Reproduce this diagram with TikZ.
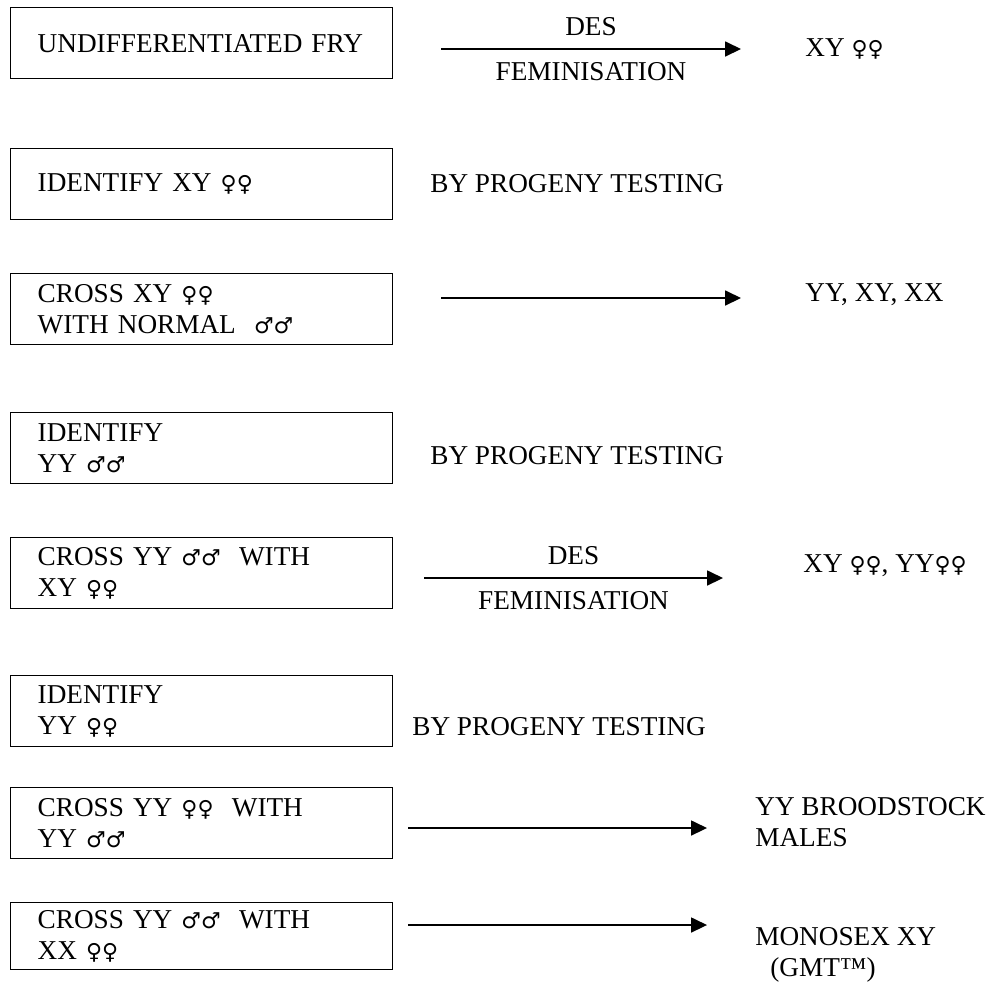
\documentclass[tikz,border=0pt]{standalone}
\usepackage{fontspec}
\setmainfont{Liberation Serif}
\newfontfamily\symfont{DejaVu Sans}
\newcommand{\ff}{{\symfont\fontsize{12.5}{15}\selectfont ♀♀}}
\newcommand{\mm}{{\symfont\fontsize{12.5}{15}\selectfont ♂♂}}
\usepackage{tikz}
\usetikzlibrary{arrows.meta}

\begin{document}
\begin{tikzpicture}[x=0.02cm, y=-0.02cm,
	every node/.style={font=\fontsize{15.5}{17.6}\selectfont},
	stepbox/.style={draw, line width=0.8pt, anchor=north west, minimum width=7.64cm, minimum height=1.42cm, text width=6.56cm, inner xsep=0.54cm, inner ysep=0pt, align=left},
	result/.style={anchor=west, inner sep=0pt, align=left},
	arr/.style={line width=0.8pt, -{Triangle[length=9pt, width=8.5pt]}}]
	\useasboundingbox (0,0) rectangle (989,985);

	% the steps
	\node[stepbox] (fry) at (10,7) {UNDIFFERENTIATED FRY};
	\node[stepbox] (idxy) at (10,148) {IDENTIFY XY \ff};
	\node[stepbox] (crossxy) at (10,273) {CROSS XY \ff\\WITH NORMAL~ \mm};
	\node[stepbox] (idyym) at (10,412) {IDENTIFY\\YY \mm};
	\node[stepbox] (crossyym) at (10,537) {CROSS YY \mm~ WITH\\XY \ff};
	\node[stepbox] (idyyf) at (10,675) {IDENTIFY\\YY \ff};
	\node[stepbox] (crossyyf) at (10,787) {CROSS YY \ff~ WITH\\YY \mm};
	\node[stepbox, minimum height=1.34cm] (crossxx) at (10,902) {CROSS YY \mm~ WITH\\XX \ff};

	% outcomes
	\node[result] (xyff) at (805,49) {XY \ff};
	\node[result] (prog1) at (430,184) {BY PROGENY TESTING};
	\node[result] (yyxyxx) at (805,295) {YY, XY, XX};
	\node[result] (prog2) at (430,456) {BY PROGENY TESTING};
	\node[result] (xyyy) at (803,566) {XY \ff, YY\ff};
	\node[result] (prog3) at (412,727) {BY PROGENY TESTING};
	\node[result] (brood) at (755,822) {YY BROODSTOCK\\MALES};
	\node[result] (gmt) at (755,955) {MONOSEX XY\\\hspace{0.3cm}(GMT™)};

	% arrows
	\coordinate (s1) at (441,49);  \coordinate (e1) at (741,49);
	\coordinate (s3) at (441,298); \coordinate (e3) at (741,298);
	\coordinate (s5) at (424,578); \coordinate (e5) at (723,578);
	\coordinate (s7) at (408,828); \coordinate (e7) at (707,828);
	\coordinate (s8) at (408,925); \coordinate (e8) at (707,925);
	\draw[arr] (s1) -- (e1) node[midway, above=4pt] (des1) {DES} node[midway, below=4pt] (fem1) {FEMINISATION};
	\draw[arr] (s3) -- (e3);
	\draw[arr] (s5) -- (e5) node[midway, above=4pt] (des2) {DES} node[midway, below=4pt] (fem2) {FEMINISATION};
	\draw[arr] (s7) -- (e7);
	\draw[arr] (s8) -- (e8);
\end{tikzpicture}
\end{document}
